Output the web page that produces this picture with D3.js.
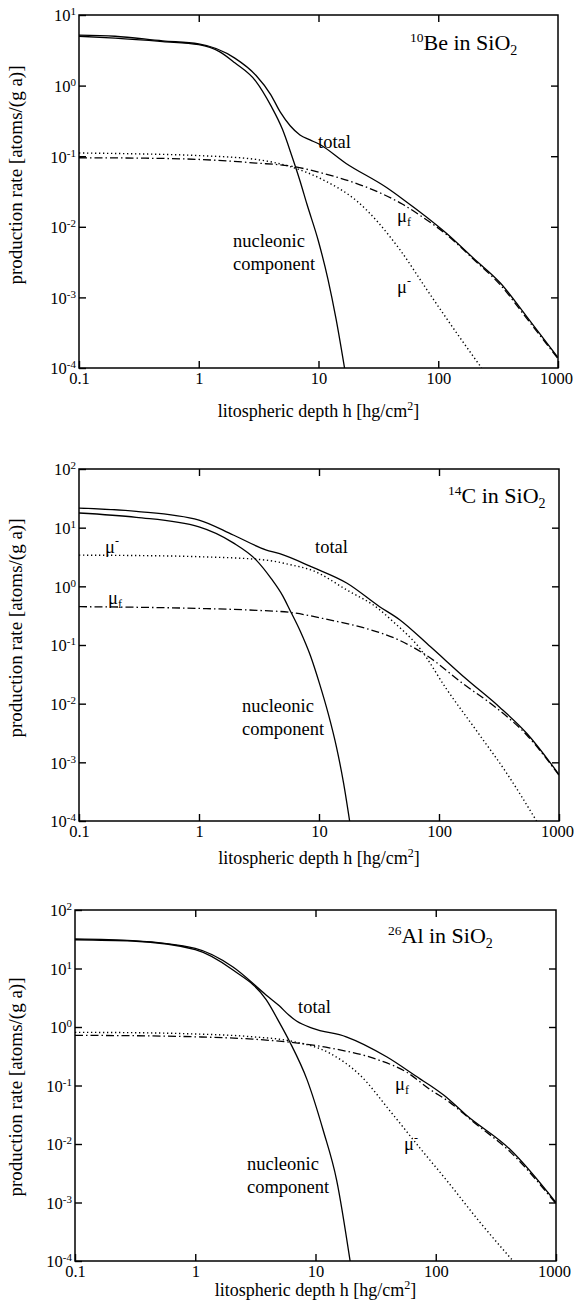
<!DOCTYPE html>
<html>
<head>
<meta charset="utf-8">
<script src="https://cdn.jsdelivr.net/npm/d3@7"></script>
<style>
  body { margin: 0; background: #fff; }
  text { font-family: "Liberation Serif", "Times New Roman", serif; fill: #000; }
</style>
</head>
<body>
<svg id="chart"></svg>
<script>
// x ticks shared by all three panels
const depthTicks = [0.1, 1, 10, 100, 1000];

// 10Be in SiO2  [depth hg/cm2, rate atoms/(g a)]
const be10Total = [[0.1,5.2],[0.2,5.0],[0.5,4.3],[1,3.9],[2,2.45],[3,1.4],[4,0.74],[4.8,0.42],[5.8,0.27],[7,0.2],[8.5,0.17],[10,0.15],[17,0.079],[37,0.036],[50,0.025],[117,0.0081],[200,0.0035],[330,0.0016],[550,0.00053],[1000,0.00014]];
const be10Nucleonic = [[0.1,5.0],[0.2,4.7],[0.5,4.2],[1,3.8],[1.5,3.0],[2,2.1],[3,1.15],[4,0.52],[5,0.24],[6,0.1],[7,0.045],[8,0.021],[10,0.0062],[12,0.0018],[14,0.0005],[16.5,0.0001]];
const be10MuNeg = [[0.1,0.111],[0.3,0.108],[1,0.102],[3,0.09],[6,0.07],[11,0.046],[21,0.023],[48,0.0047],[80,0.0013],[133,0.00037],[230,0.0001]];
const be10MuFast = [[0.1,0.095],[0.3,0.094],[1,0.09],[3,0.08],[6,0.072],[11,0.057],[20,0.042],[33,0.03],[50,0.021],[75,0.0135],[117,0.0078],[196,0.0035],[330,0.0015],[550,0.0005],[1000,0.000135]];

// 14C in SiO2
const c14Total = [[0.1,21.6],[0.3,19],[1,13.5],[1.93,7.5],[3.6,4.2],[4.7,3.6],[8.9,2.1],[17,1.14],[32,0.45],[47,0.27],[85,0.093],[170,0.026],[320,0.0087],[540,0.0031],[1000,0.00062]];
const c14Nucleonic = [[0.1,17.8],[0.3,15],[1,10.3],[1.93,5.5],[3,2.8],[4,1.35],[5,0.68],[5.7,0.4],[7,0.17],[8.5,0.065],[10.1,0.022],[12,0.0065],[14,0.0018],[16,0.00045],[18,0.0001]];
const c14MuNeg = [[0.1,3.4],[0.3,3.35],[1,3.2],[3.6,2.8],[5.7,2.35],[8.9,1.85],[17,0.87],[32,0.4],[39,0.28],[70,0.085],[115,0.018],[216,0.003],[367,0.00065],[650,0.0001]];
const c14MuFast = [[0.1,0.45],[0.3,0.44],[1,0.42],[3,0.39],[5.7,0.36],[12,0.27],[25,0.19],[45,0.125],[80,0.065],[158,0.022],[300,0.0085],[540,0.0029],[1000,0.0006]];

// 26Al in SiO2
const al26Total = [[0.1,32],[0.3,30],[1,22],[2.06,10.6],[3.9,3.5],[5,2.3],[6,1.6],[7,1.25],[9.5,0.95],[18,0.68],[39,0.31],[74,0.13],[90,0.1],[117,0.068],[180,0.031],[420,0.0079],[1000,0.001]];
const al26Nucleonic = [[0.1,31],[0.3,29.5],[1,21],[2.06,9.4],[3.9,2.9],[5,1.2],[6.1,0.56],[8.5,0.126],[11.6,0.017],[15,0.0024],[19.4,0.0001]];
const al26MuNeg = [[0.1,0.81],[0.3,0.8],[1,0.76],[3,0.68],[6.1,0.58],[13,0.36],[23.5,0.15],[42,0.036],[74,0.0085],[123,0.0024],[233,0.00046],[440,0.0001]];
const al26MuFast = [[0.1,0.72],[0.3,0.71],[1,0.68],[3,0.62],[6.1,0.55],[13,0.44],[34,0.27],[57,0.17],[90,0.085],[130,0.052],[200,0.025],[420,0.0072],[1000,0.00095]];

const width = 574, height = 1311;
const svg = d3.select("#chart").attr("width", width).attr("height", height);

const styles = {
  total: null,
  nucleonic: null,
  muNeg: "1.3,2.7",
  muFast: "8,3,1.5,3"
};

const panels = [
  {
    left: 79, right: 558, top: 15, bottom: 368, yMax: 10,
    series: { total: be10Total, nucleonic: be10Nucleonic, muNeg: be10MuNeg, muFast: be10MuFast },
    iso: "10", title: "Be in SiO", titleX: 410, titleY: 50,
    yLabelY: 175, xLabelY: 417,
    totalAt: [318, 148], nucAt: [233, 247], muFAt: [397, 222], muNAt: [397, 293]
  },
  {
    left: 79, right: 559, top: 469, bottom: 821, yMax: 100,
    series: { total: c14Total, nucleonic: c14Nucleonic, muNeg: c14MuNeg, muFast: c14MuFast },
    iso: "14", title: "C in SiO", titleX: 448, titleY: 503,
    yLabelY: 628, xLabelY: 864,
    totalAt: [315, 553], nucAt: [242, 712], muFAt: [108, 604], muNAt: [105, 553]
  },
  {
    left: 75, right: 556, top: 910, bottom: 1261, yMax: 100,
    series: { total: al26Total, nucleonic: al26Nucleonic, muNeg: al26MuNeg, muFast: al26MuFast },
    iso: "26", title: "Al in SiO", titleX: 388, titleY: 943,
    yLabelY: 1087, xLabelY: 1296,
    totalAt: [298, 1013], nucAt: [247, 1170], muFAt: [395, 1090], muNAt: [404, 1150]
  }
];

panels.forEach(p => drawPanel(p));

function drawPanel(p) {
  const x = d3.scaleLog().domain([0.1, 1000]).range([p.left, p.right]);
  const y = d3.scaleLog().domain([1e-4, p.yMax]).range([p.bottom, p.top]);
  const yTicks = d3.range(-4, Math.round(Math.log10(p.yMax)) + 1).map(e => Math.pow(10, e));

  const g = svg.append("g");

  // clip so curves stop at the frame
  const clipId = "clip" + p.top;
  g.append("clipPath").attr("id", clipId)
    .append("rect")
    .attr("x", p.left).attr("y", p.top)
    .attr("width", p.right - p.left).attr("height", p.bottom - p.top);

  const line = d3.line()
    .x(d => x(d[0]))
    .y(d => y(d[1]))
    .curve(d3.curveMonotoneX);

  const curves = g.append("g").attr("clip-path", `url(#${clipId})`);
  Object.keys(p.series).forEach(k => {
    curves.append("path")
      .datum(p.series[k])
      .attr("d", line)
      .attr("fill", "none")
      .attr("stroke", "#000")
      .attr("stroke-width", k === "muNeg" ? 1.4 : 1.3)
      .attr("stroke-dasharray", styles[k]);
  });

  // axes, ticks pointing inward
  const bottom = g.append("g")
    .attr("transform", `translate(0,${p.bottom})`)
    .call(d3.axisBottom(x).tickValues(depthTicks).tickSize(-7).tickPadding(4.5)
      .tickFormat(d => d < 1 ? "0.1" : d3.format("d")(d)));
  const top = g.append("g")
    .attr("transform", `translate(0,${p.top})`)
    .call(d3.axisTop(x).tickValues([1, 10, 100]).tickSize(-7).tickFormat(""));
  const left = g.append("g")
    .attr("transform", `translate(${p.left},0)`)
    .call(d3.axisLeft(y).tickValues(yTicks).tickSize(-7).tickPadding(3).tickFormat(""));
  const right = g.append("g")
    .attr("transform", `translate(${p.right},0)`)
    .call(d3.axisRight(y).tickValues(yTicks.slice(1, -1)).tickSize(-7).tickFormat(""));

  [bottom, top, left, right].forEach(a => {
    a.select(".domain").remove();
    a.selectAll(".tick line").attr("stroke", "#000").attr("stroke-width", 1.4);
    a.attr("font-family", null).attr("font-size", null);
  });
  bottom.selectAll(".tick text").attr("font-size", 16.5)
    .attr("dx", d => d === 1000 ? -2 : 0);

  left.selectAll(".tick text").each(function(d) {
    const t = d3.select(this).attr("font-size", 16.5).attr("dy", "0.36em");
    t.text(null);
    t.append("tspan").text("10");
    t.append("tspan").attr("dy", -6).attr("font-size", 11).text(Math.round(Math.log10(d)));
  });

  g.append("rect")
    .attr("x", p.left).attr("y", p.top)
    .attr("width", p.right - p.left).attr("height", p.bottom - p.top)
    .attr("fill", "none").attr("stroke", "#000").attr("stroke-width", 1.5);

  // axis titles
  g.append("text")
    .attr("x", (p.left + p.right) / 2).attr("y", p.xLabelY)
    .attr("text-anchor", "middle").attr("font-size", 18)
    .call(t => {
      t.append("tspan").text("litospheric depth h [hg/cm");
      t.append("tspan").attr("dy", -7).attr("font-size", 12).text("2");
      t.append("tspan").attr("dy", 7).text("]");
    });
  g.append("text")
    .attr("transform", `translate(22,${p.yLabelY}) rotate(-90)`)
    .attr("text-anchor", "middle").attr("font-size", 19)
    .text("production rate [atoms/(g a)]");

  // panel title
  g.append("text")
    .attr("x", p.titleX).attr("y", p.titleY).attr("font-size", 22)
    .call(t => {
      t.append("tspan").attr("dy", -8).attr("font-size", 13.5).text(p.iso);
      t.append("tspan").attr("dy", 8).text(p.title);
      t.append("tspan").attr("dy", 5).attr("font-size", 14).text("2");
    });

  // curve labels
  g.append("text").attr("x", p.totalAt[0]).attr("y", p.totalAt[1])
    .attr("font-size", 18.5).text("total");
  g.append("text").attr("x", p.nucAt[0]).attr("y", p.nucAt[1])
    .attr("font-size", 18.5).text("nucleonic");
  g.append("text").attr("x", p.nucAt[0]).attr("y", p.nucAt[1] + 23)
    .attr("font-size", 18.5).text("component");
  g.append("text").attr("x", p.muFAt[0]).attr("y", p.muFAt[1])
    .attr("font-size", 18.5)
    .call(t => {
      t.append("tspan").text("μ");
      t.append("tspan").attr("dy", 4).attr("font-size", 12).text("f");
    });
  g.append("text").attr("x", p.muNAt[0]).attr("y", p.muNAt[1])
    .attr("font-size", 18.5)
    .call(t => {
      t.append("tspan").text("μ");
      t.append("tspan").attr("dy", -8).attr("font-size", 12).text("-");
    });
}
</script>
</body>
</html>
